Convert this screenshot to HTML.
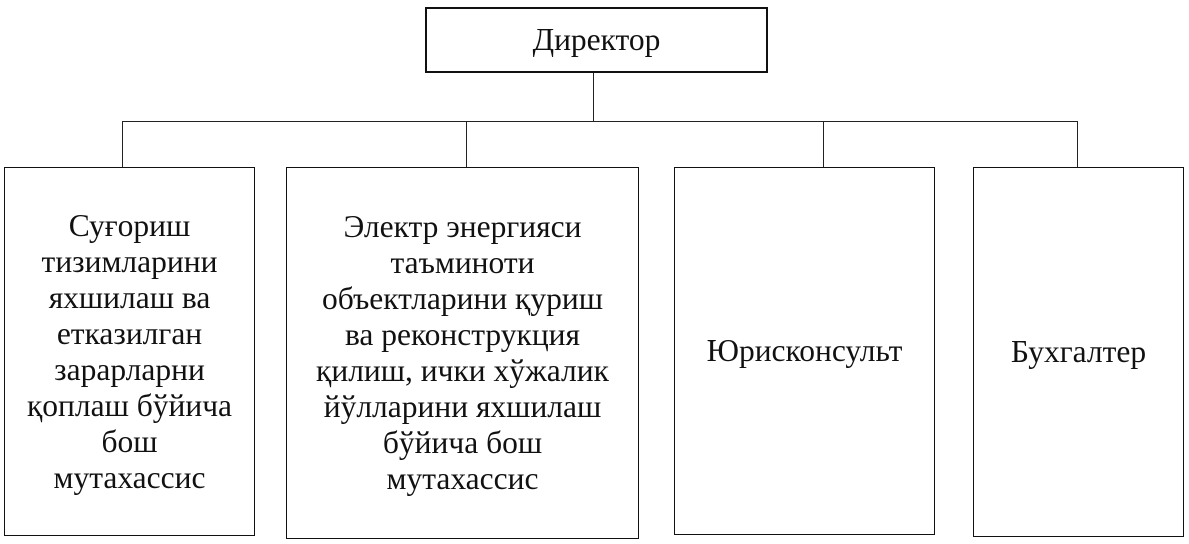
<!DOCTYPE html>
<html><head><meta charset="utf-8"><style>
body{margin:0;width:1189px;height:544px;background:#fff;position:relative;overflow:hidden;font-family:"Liberation Serif","DejaVu Serif",serif;color:#111}
.b{position:absolute;border:2px solid #111;box-sizing:border-box;display:flex;align-items:center;justify-content:center;text-align:center;font-size:31.5px;line-height:36px;white-space:nowrap}
.l{position:absolute;background:#222}
</style></head><body>
<div class="b" style="left:425px;top:7px;width:343px;height:66px;">Директор</div>
<div class="l" style="left:593px;top:73px;width:1px;height:49px"></div>
<div class="l" style="left:122px;top:121px;width:956px;height:1px"></div>
<div class="l" style="left:122px;top:121px;width:1px;height:46px"></div>
<div class="l" style="left:466px;top:121px;width:1px;height:46px"></div>
<div class="l" style="left:823px;top:121px;width:1px;height:46px"></div>
<div class="l" style="left:1077px;top:121px;width:1px;height:46px"></div>
<div class="b" style="left:4px;top:167px;width:251px;height:369px;border-width:1.5px">Суғориш<br>тизимларини<br>яхшилаш ва<br>етказилган<br>зарарларни<br>қоплаш бўйича<br>бош<br>мутахассис</div>
<div class="b" style="left:286px;top:167px;width:353px;height:372px;border-width:1.5px">Электр энергияси<br>таъминоти<br>объектларини қуриш<br>ва реконструкция<br>қилиш, ички хўжалик<br>йўлларини яхшилаш<br>бўйича бош<br>мутахассис</div>
<div class="b" style="left:674px;top:167px;width:261px;height:368px;border-width:1.5px">Юрисконсульт</div>
<div class="b" style="left:973px;top:167px;width:211px;height:370px;border-width:1.5px">Бухгалтер</div>
</body></html>
